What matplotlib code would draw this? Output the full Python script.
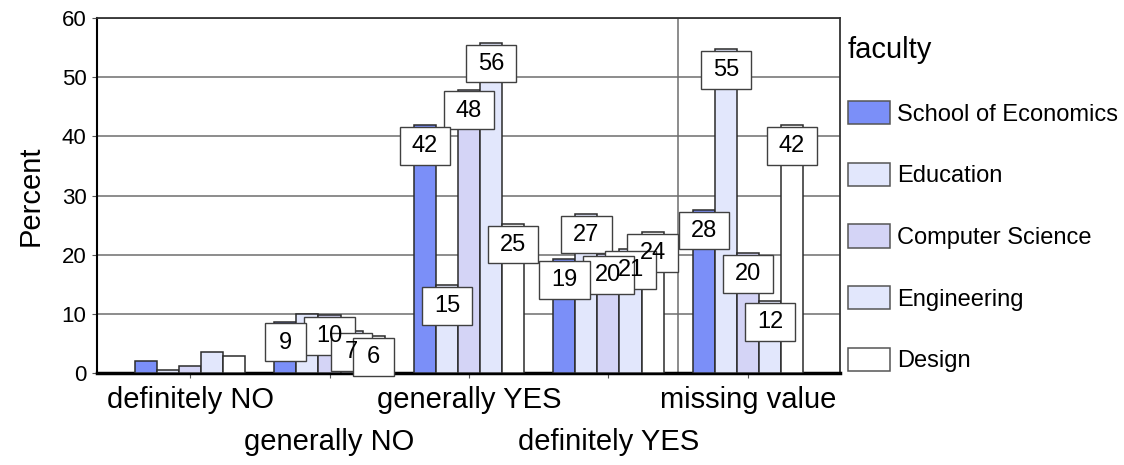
import numpy as np
import matplotlib.pyplot as plt

plt.rcParams['font.family'] = ['Liberation Sans', 'DejaVu Sans']

answers = ['definitely NO', 'generally NO', 'generally YES', 'definitely YES', 'missing value']
faculties = ['School of Economics', 'Education', 'Computer Science', 'Engineering', 'Design']
colors = ['#7b8ff8', '#e2e7fc', '#d4d4f6', '#e2e7fc', '#ffffff']

# percent of answers per faculty
econ = [2.1, 8.7, 41.9, 19.2, 27.6]
educ = [0.5, 9.9, 14.8, 26.9, 54.7]
comp = [1.1, 9.8, 47.9, 20.1, 20.2]
engi = [3.5, 7.1, 55.8, 20.9, 12.1]
design = [2.8, 6.2, 25.2, 23.8, 41.9]

# which bars get a value box
econ_lab = [False, True, True, True, True]
educ_lab = [False, False, True, True, True]
comp_lab = [False, True, True, True, True]
engi_lab = [False, True, True, True, True]
design_lab = [False, True, True, True, True]

series = [econ, educ, comp, engi, design]
shown = [econ_lab, educ_lab, comp_lab, engi_lab, design_lab]

fig = plt.figure(figsize=(11.24, 4.65), dpi=100)
ax = fig.add_axes([97/1124, 1-373/465, (840-97)/1124, (373-18)/465])

x = np.arange(len(answers))
w = 0.158
for i, (vals, name, c) in enumerate(zip(series, faculties, colors)):
    ax.bar(x + (i-2)*w, vals, w, color=c, edgecolor='#2b2b2b', linewidth=1.1,
           label=name, zorder=3)

# value boxes: frames first (lower values on top), digits over everything
for i, vals in enumerate(series):
    for j, v in enumerate(vals):
        if not shown[i][j]:
            continue
        xb = x[j] + (i-2)*w
        s = '%d' % round(v)
        ax.annotate(' ' + s + ' ', xy=(xb, v), xytext=(0, -13.2), textcoords='offset pixels',
                    ha='center', va='top', fontsize=12, color='none',
                    zorder=5 + (60-v)/100,
                    bbox=dict(boxstyle='square,pad=0.68', fc='white', ec='#404040', lw=1))
        ax.annotate(s, xy=(xb, v), xytext=(0, -21), textcoords='offset pixels',
                    ha='center', va='center', fontsize=17, zorder=10)

ax.set_xlim(-0.667, 4.66)
ax.set_ylim(0, 60)
ax.set_yticks(range(0, 61, 10))
ax.yaxis.grid(True, color='#6e6e6e', lw=1.1)
ax.set_axisbelow(True)
ax.axvline(3.5, color='#6e6e6e', lw=1.1, zorder=0.5)

ax.set_xticks(x)
ax.set_xticklabels([a if k % 2 == 0 else '\n' + a for k, a in enumerate(answers)],
                   fontsize=21, linespacing=1.6)
ax.tick_params(axis='x', length=3.6, color='#555555', pad=6)
ax.tick_params(axis='y', length=3.6, color='#555555', pad=4, labelsize=16)
ax.set_ylabel('Percent', fontsize=21, labelpad=12)

ax.spines['left'].set_linewidth(1.5)
ax.spines['bottom'].set_linewidth(2.5)
for s in ['top', 'right']:
    ax.spines[s].set_color('#333333')
    ax.spines[s].set_linewidth(1.3)

leg = ax.legend(title='faculty', loc='upper left', bbox_to_anchor=(848/1124, 1-36/465),
                bbox_transform=fig.transFigure, frameon=False, fontsize=17,
                title_fontsize=21, handlelength=1.78, handleheight=1.15,
                labelspacing=1.565, handletextpad=0.3, borderpad=0, borderaxespad=0,
                alignment='left')
for p in leg.get_patches():
    p.set_edgecolor('#555555')

fig.savefig('out.png', dpi=100)
